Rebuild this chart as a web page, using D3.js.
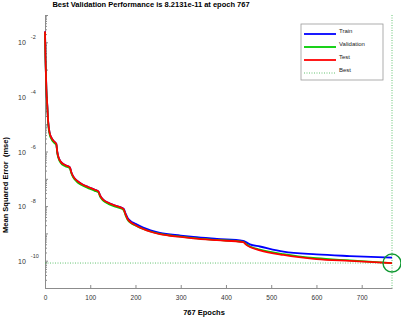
<!DOCTYPE html>
<html>
<head>
<meta charset="utf-8">
<script src="https://cdn.jsdelivr.net/npm/d3@7"></script>
<style>
  body { margin: 0; background: #fff; }
  text { font-family: "Liberation Sans", Arial, sans-serif; }
</style>
</head>
<body>
<div id="canvas"></div>
<script>
"use strict";

let svgWidth = 401;
let svgHeight = 317;
let margin = { top: 15, right: 9, bottom: 29, left: 45 };

/* === Data (log10 of mse) === */
let epochs = [0, 1, 2, 3, 5, 7, 10, 15, 20, 25, 27, 30, 35, 45, 55, 58, 62, 70, 80, 95, 110, 118, 122, 128, 140, 155, 170, 174, 178, 183, 190, 200, 217, 254, 300, 328, 380, 438, 445, 453, 475, 527, 600, 674, 767];

let trainLog = [-1.60, -2.50, -3.10, -3.70, -4.30, -4.90, -5.30, -5.52, -5.63, -5.72, -6.00, -6.22, -6.38, -6.50, -6.58, -6.75, -6.90, -7.06, -7.18, -7.30, -7.40, -7.46, -7.62, -7.75, -7.88, -7.98, -8.06, -8.10, -8.27, -8.44, -8.56, -8.65, -8.79, -8.98, -9.08, -9.13, -9.20, -9.27, -9.33, -9.40, -9.48, -9.67, -9.77, -9.83, -9.89];

let validLog = [-1.62, -2.54, -3.15, -3.75, -4.35, -4.95, -5.35, -5.57, -5.68, -5.76, -6.04, -6.26, -6.42, -6.54, -6.62, -6.79, -6.94, -7.10, -7.22, -7.34, -7.44, -7.50, -7.66, -7.79, -7.92, -8.02, -8.10, -8.15, -8.33, -8.51, -8.62, -8.71, -8.84, -9.02, -9.12, -9.17, -9.24, -9.31, -9.40, -9.48, -9.59, -9.76, -9.91, -9.99, -10.0855];

let testLog = [-1.60, -2.50, -3.10, -3.70, -4.30, -4.90, -5.30, -5.52, -5.63, -5.72, -6.00, -6.22, -6.38, -6.50, -6.58, -6.75, -6.90, -7.06, -7.18, -7.30, -7.40, -7.46, -7.62, -7.75, -7.88, -7.98, -8.07, -8.12, -8.30, -8.48, -8.60, -8.70, -8.84, -9.03, -9.13, -9.18, -9.25, -9.32, -9.42, -9.50, -9.62, -9.79, -9.94, -10.01, -10.09];

let bestEpoch = 767;
let bestValue = 8.2131e-11;

let xTicks = [0, 100, 200, 300, 400, 500, 600, 700];
let yLabelExps = [-2, -4, -6, -8, -10];

let seriesNames = ["Train", "Validation", "Test"];
let seriesColors = ["#0000ff", "#00cc00", "#ff0000"];
let seriesData = [trainLog, validLog, testLog];

/* === Scales === */
let xScale = d3.scaleLinear()
  .domain([0, 767])
  .range([margin.left, svgWidth - margin.right]);

let yScale = d3.scaleLog()
  .domain([1e-11, 1e-1])
  .range([svgHeight - margin.bottom, margin.top]);

let svg = d3.select("#canvas")
  .append("svg")
  .attr("width", svgWidth)
  .attr("height", svgHeight);

/* === Axes (ticks point inward) === */
let axisColor = "#8c8c8c";
let labelColor = "#333";

let xAxis = svg.append("g")
  .attr("transform", `translate(0, ${svgHeight - margin.bottom})`)
  .call(d3.axisBottom(xScale).tickValues(xTicks).tickSizeInner(-3).tickSizeOuter(0).tickPadding(7));

let yTickVals = [];
for (let e = -11; e <= -1; e++) {
  for (let m = 1; m <= 9; m++) {
    let v = m * Math.pow(10, e);
    if (v <= 1e-1 * 1.0001) yTickVals.push(v);
  }
}

let yAxis = svg.append("g")
  .attr("transform", `translate(${margin.left}, 0)`)
  .call(d3.axisLeft(yScale).tickValues(yTickVals).tickSizeOuter(0).tickFormat(""));

[xAxis, yAxis].forEach(g => {
  g.select(".domain").attr("stroke", axisColor);
  g.selectAll(".tick line").attr("stroke", axisColor);
  g.selectAll(".tick text").attr("fill", labelColor).attr("font-size", "6.5px");
});

// y ticks: major 3px, minor 2px, pointing right
yAxis.selectAll(".tick line")
  .attr("x2", d => {
    let lg = Math.log10(d);
    return Math.abs(lg - Math.round(lg)) < 1e-6 ? 3 : 2;
  });

// y labels: 10 with superscript exponent
yLabelExps.forEach(e => {
  let t = svg.append("text")
    .attr("x", 18)
    .attr("y", yScale(Math.pow(10, e)) + 3)
    .attr("font-size", "7px")
    .attr("fill", labelColor);
  t.append("tspan").text("10");
  t.append("tspan")
    .attr("dx", 5)
    .attr("dy", -6)
    .attr("font-size", "5.5px")
    .text(String(e).replace("-", "-"));
});

/* === Best lines === */
let bestColor = "#3cb44b";
svg.append("line")
  .attr("x1", xScale(0))
  .attr("x2", xScale(bestEpoch))
  .attr("y1", yScale(bestValue))
  .attr("y2", yScale(bestValue))
  .attr("stroke", bestColor)
  .attr("stroke-width", 0.8)
  .attr("stroke-dasharray", "1,1.5");

svg.append("line")
  .attr("x1", xScale(bestEpoch))
  .attr("x2", xScale(bestEpoch))
  .attr("y1", yScale(1e-1))
  .attr("y2", yScale(1e-11))
  .attr("stroke", bestColor)
  .attr("stroke-width", 0.8)
  .attr("stroke-dasharray", "1,1.5");

/* === Curves === */
let line = d3.line()
  .x((d, i) => xScale(epochs[i]))
  .y(d => yScale(Math.pow(10, d)))
  .curve(d3.curveMonotoneX);

seriesData.forEach((s, i) => {
  svg.append("path")
    .datum(s)
    .attr("fill", "none")
    .attr("stroke", seriesColors[i])
    .attr("stroke-width", 1.8)
    .attr("d", line);
});

/* === Best circle === */
svg.append("circle")
  .attr("cx", xScale(bestEpoch))
  .attr("cy", yScale(bestValue))
  .attr("r", 9)
  .attr("fill", "none")
  .attr("stroke", "#119933")
  .attr("stroke-width", 1.4);

/* === Titles === */
svg.append("text")
  .attr("x", 151)
  .attr("y", 7)
  .attr("text-anchor", "middle")
  .attr("font-size", "7.5px")
  .attr("font-weight", "bold")
  .text("Best Validation Performance is 8.2131e-11 at epoch 767");

svg.append("text")
  .attr("x", 204)
  .attr("y", 315)
  .attr("text-anchor", "middle")
  .attr("font-size", "7.5px")
  .attr("font-weight", "bold")
  .text("767 Epochs");

svg.append("text")
  .attr("transform", "translate(8, 185) rotate(-90)")
  .attr("text-anchor", "middle")
  .attr("font-size", "7.5px")
  .attr("font-weight", "bold")
  .attr("xml:space", "preserve")
  .style("white-space", "pre")
  .text("Mean Squared Error  (mse)");

/* === Legend === */
let legend = svg.append("g")
  .attr("transform", "translate(301, 24)");

legend.append("rect")
  .attr("width", 82)
  .attr("height", 56)
  .attr("fill", "#fff")
  .attr("stroke", "#999")
  .attr("stroke-width", 0.8);

let legendItems = seriesNames.concat(["Best"]);
legendItems.forEach((name, i) => {
  let y = 8 + i * 13;
  let best = i === 3;
  legend.append("line")
    .attr("x1", 3)
    .attr("x2", 35)
    .attr("y1", y + 2)
    .attr("y2", y + 2)
    .attr("stroke", best ? bestColor : seriesColors[i])
    .attr("stroke-width", best ? 0.8 : 1.8)
    .attr("stroke-dasharray", best ? "1,1.5" : null);
  legend.append("text")
    .attr("x", 38)
    .attr("y", y + 1)
    .attr("font-size", "6px")
    .attr("fill", "#222")
    .text(name);
});
</script>
</body>
</html>
